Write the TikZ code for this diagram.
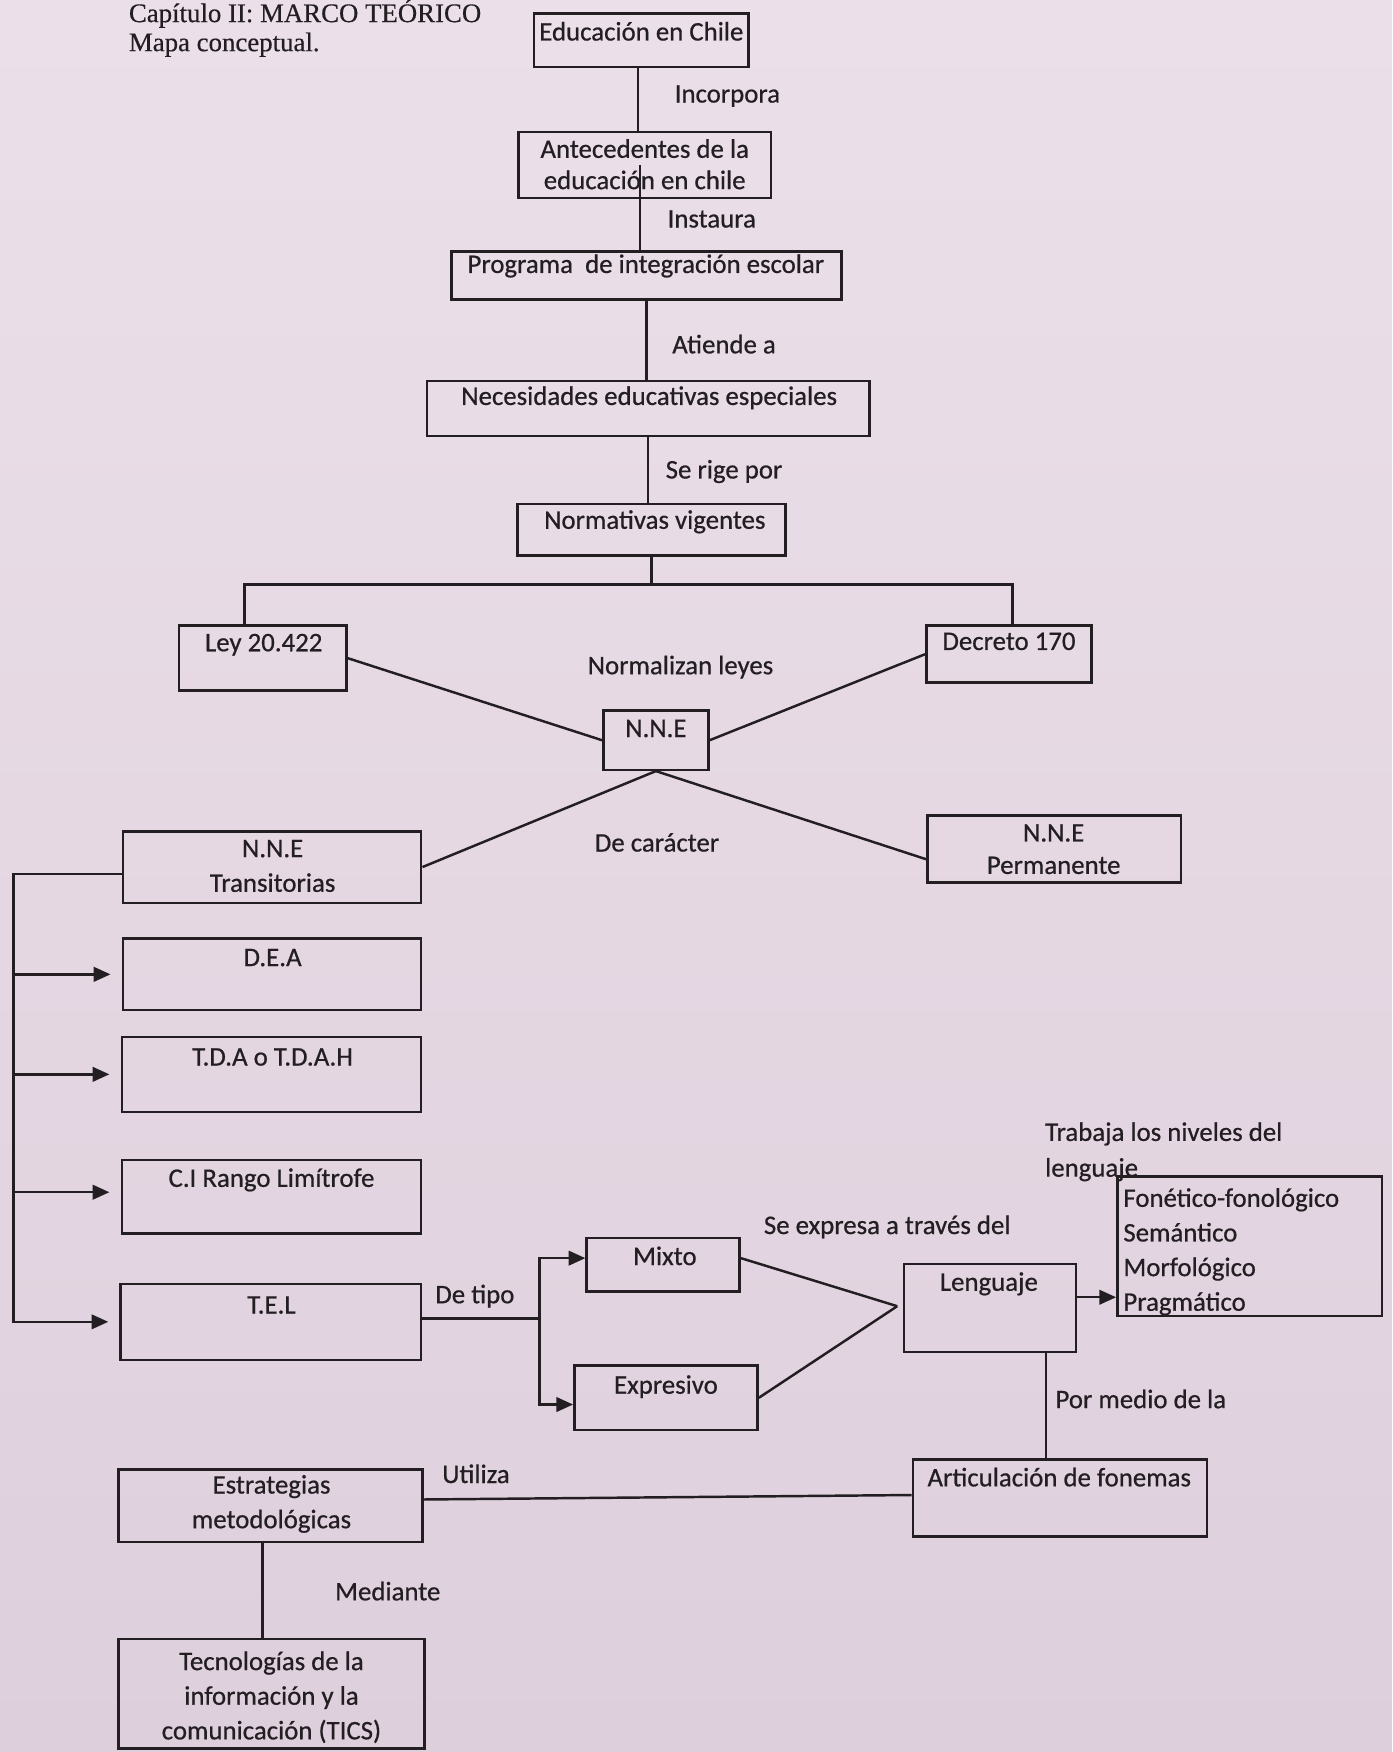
\documentclass[tikz,border=0pt]{standalone}
\usepackage{fontspec}
\setmainfont{Carlito}[FakeBold=0.6]
\newfontfamily\titlefont{Liberation Serif}[FakeBold=0.4]
\usetikzlibrary{fit,arrows.meta,calc}
\definecolor{paper}{RGB}{235,224,233}
\definecolor{paperdark}{RGB}{222,207,220}
\definecolor{ink}{RGB}{34,30,34}
\begin{document}
\begin{tikzpicture}[x=0.5pt,y=-0.5pt,
  box/.style={draw=ink, line width=1.1pt, inner sep=0pt},
  txt/.style={text=ink, inner sep=0pt, font=\fontsize{12}{15}\selectfont, align=center},
  lbl/.style={txt},
  con/.style={draw=ink, line width=1.1pt},
  arr/.style={con, -{Triangle[length=7.5pt,width=6.5pt]}}]
\shade[top color=paper, bottom color=paperdark] (0,0) rectangle (1246,1568);
\useasboundingbox (0,0) rectangle (1246,1568);

% title
\node[anchor=west, text=ink, inner sep=0pt, font=\titlefont\fontsize{12}{14}\selectfont] (t1) at (115,12) {Capítulo II: MARCO TEÓRICO};
\node[anchor=west, text=ink, inner sep=0pt, font=\titlefont\fontsize{12}{14}\selectfont] (t2) at (115,40) {Mapa conceptual.};

% boxes
\node[box, fit={(478,12)(670,60)}] (edu) {};
\node[txt] (edut) at (574,28) {Educación en Chile};
\node[box, fit={(464,118)(690,177)}] (ante) {};
\node[txt, font=\fontsize{12}{14}\selectfont] (antet) at (577,147) {Antecedentes de la\\educación en chile};
\node[box, fit={(404,225)(753,268)}] (prog) {};
\node[txt] (progt) at (578,238) {Programa\ \ de integración escolar};
\node[box, fit={(382,341)(778,390)}] (nee) {};
\node[txt] (neet) at (581,356) {Necesidades educativas especiales};
\node[box, fit={(463,451)(703,497)}] (norm) {};
\node[txt] (normt) at (586,467) {Normativas vigentes};
\node[box, fit={(160,560)(310,618)}] (ley) {};
\node[txt] (leyt) at (236,577) {Ley 20.422};
\node[box, fit={(829,560)(977,611)}] (dec) {};
\node[txt] (dect) at (903,574) {Decreto 170};
\node[box, fit={(540,636)(634,689)}] (nne) {};
\node[txt] (nnet) at (587,652) {N.N.E};
\node[box, fit={(110,744)(377,808)}] (trans) {};
\node[txt, font=\fontsize{12}{15.5}\selectfont] (transt) at (244,775) {N.N.E\\Transitorias};
\node[box, fit={(830,730)(1057,790)}] (perm) {};
\node[txt, font=\fontsize{12}{14.5}\selectfont] (permt) at (943,760) {N.N.E\\Permanente};
\node[box, fit={(110,840)(377,904)}] (dea) {};
\node[txt] (deat) at (244,857) {D.E.A};
\node[box, fit={(109,928)(377,995)}] (tda) {};
\node[txt] (tdat) at (244,946) {T.D.A o T.D.A.H};
\node[box, fit={(109,1038)(377,1104)}] (ci) {};
\node[txt] (cit) at (243,1056) {C.I Rango Limítrofe};
\node[box, fit={(108,1149)(377,1217)}] (tel) {};
\node[txt] (telt) at (243,1168) {T.E.L};
\node[box, fit={(525,1108)(662,1156)}] (mix) {};
\node[txt] (mixt) at (595,1124) {Mixto};
\node[box, fit={(514,1222)(678,1280)}] (exp) {};
\node[txt] (expt) at (596,1241) {Expresivo};
\node[box, fit={(809,1131)(963,1210)}] (leng) {};
\node[txt] (lengt) at (885,1149) {Lenguaje};
\node[box, fit={(1000,1053)(1237,1178)}] (fon) {};
\node[txt, align=left, anchor=north west, font=\fontsize{12}{15.5}\selectfont] (font) at (1005,1063) {Fonético-fonológico\\Semántico\\Morfológico\\Pragmático};
\node[box, fit={(817,1306)(1080,1375)}] (art) {};
\node[txt] (artt) at (948,1322) {Articulación de fonemas};
\node[box, fit={(106,1315)(378,1380)}] (est) {};
\node[txt, font=\fontsize{12}{15.5}\selectfont] (estt) at (243,1346) {Estrategias\\metodológicas};
\node[box, fit={(106,1467)(380,1565)}] (tic) {};
\node[txt, font=\fontsize{12}{15.5}\selectfont] (tict) at (243,1519) {Tecnologías de la\\información y la\\comunicación (TICS)};

% labels
\node[lbl] (l1) at (651,86) {Incorpora};
\node[lbl] (l2) at (637,196) {Instaura};
\node[lbl] (l3) at (648,308) {Atiende a};
\node[lbl] (l4) at (648,422) {Se rige por};
\node[lbl] (l5) at (609,597) {Normalizan leyes};
\node[lbl] (l6) at (588,754) {De carácter};
\node[lbl] (l7) at (425,1160) {De tipo};
\node[lbl] (l8) at (794,1098) {Se expresa a través del};
\node[lbl, align=left, anchor=north west, font=\fontsize{12}{16}\selectfont] (l9) at (935,1004) {Trabaja los niveles del\\lenguaje};
\node[lbl] (l10) at (1021,1252) {Por medio de la};
\node[lbl] (l11) at (426,1319) {Utiliza};
\node[lbl] (l12) at (347,1424) {Mediante};

% connectors
\draw[con] ([xshift=-1.5pt]edu.south) -- ([xshift=-1.5pt]edu.south |- ante.north);
\draw[con] ([xshift=-2pt]ante.center) -- ([xshift=-2pt]ante.center |- prog.north);
\draw[con] (prog.south) -- (prog.south |- nee.north);
\draw[con] (nee.south) -- (nee.south |- norm.north);
\coordinate (bar) at (587,523);
\draw[con] (norm.south) -- (norm.south |- bar);
\draw[con] ([xshift=-8pt]ley.north) |- ([xshift=1.5pt]dec.north |- bar) -- ([xshift=1.5pt]dec.north);
\draw[con] (ley.east) -- (nne.west);
\draw[con] (dec.west) -- (nne.east);
\draw[con] (nne.south) -- (trans.east);
\draw[con] (nne.south) -- ([yshift=-4.5pt]perm.west);

\coordinate (bx) at (12,782);
\draw[arr, shorten >=5pt] ([yshift=-3pt]trans.west) -- (bx) -- (bx |- tel.west) -- (tel.west);
\draw[arr, shorten >=5pt] (bx |- dea.west) -- (dea.west);
\draw[arr, shorten >=5pt] (bx |- tda.west) -- (tda.west);
\draw[arr, shorten >=5pt] ([yshift=2pt]bx |- ci.west) -- ([yshift=2pt]ci.west);

\coordinate (br) at (483,1180);
\draw[con] ([yshift=1.5pt]tel.east) -- (br);
\draw[arr] (br) |- ([yshift=3pt]mix.west);
\draw[arr] (br) |- ([yshift=-3pt]exp.west);
\coordinate (lj) at (803,1169);
\draw[con] ([yshift=3pt]mix.east) -- (lj);
\draw[con] (exp.east) -- (lj);
\draw[arr] ([yshift=4.75pt]leng.east) -- ([yshift=4.75pt]leng.east -| fon.west);
\draw[con] ([xshift=25pt]leng.south) -- ([xshift=25pt]leng.south |- art.north);
\draw[con] ([yshift=2.75pt]est.east) -- ([yshift=1.25pt]art.west);
\draw[con] ([xshift=-3.5pt]est.south) -- ([xshift=-3.5pt]est.south |- tic.north);
\end{tikzpicture}
\end{document}
